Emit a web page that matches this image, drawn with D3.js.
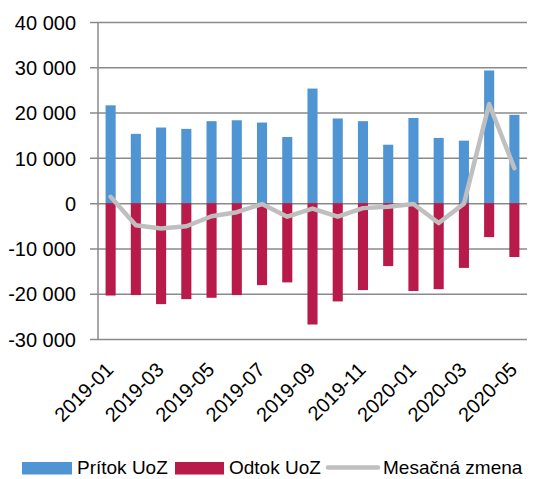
<!DOCTYPE html>
<html>
  <head>
    <meta charset="utf-8">
    <style>
      body { margin: 0; background: #ffffff; }
      text { font-family: "Liberation Sans", Arial, sans-serif; fill: #000; }
    </style>
  </head>
  <body>
    <svg id="chart"></svg>
  </body>
</html>

<script src="https://d3js.org/d3.v7.min.js"></script>

<script>
  const WIDTH = 545;
  const HEIGHT = 479;

  // data
  const months = ['2019-01','2019-02','2019-03','2019-04','2019-05','2019-06','2019-07','2019-08',
                  '2019-09','2019-10','2019-11','2019-12','2020-01','2020-02','2020-03','2020-04','2020-05'];
  const pritok = [21600, 15300, 16700, 16400, 18100, 18300, 17800, 14600,
                  25300, 18700, 18100, 12900, 18800, 14400, 13800, 29300, 19500];
  const odtok = [-20400, -20300, -22300, -21200, -20900, -20300, -18100, -17500,
                 -26800, -21700, -19200, -13900, -19400, -19000, -14300, -7500, -11900];
  const zmena = [1400, -4900, -5600, -5100, -2900, -2000, -200, -3000,
                 -1200, -3000, -1100, -800, -200, -4400, -100, 21900, 7700];
  const yTicks = [-30000, -20000, -10000, 0, 10000, 20000, 30000, 40000];
  const seriesNames = ['Prítok UoZ', 'Odtok UoZ', 'Mesačná zmena'];

  const BLUE = '#5095d3';
  const RED = '#b81a4a';
  const GRAY = '#bfbfbf';
  const GRID = '#8a8a8a';

  let svg = d3.select('#chart')
    .attr('width', WIDTH)
    .attr('height', HEIGHT);

  let x = d3.scaleBand()
    .domain(months)
    .range([98, 527])
    .paddingInner(0.6)
    .paddingOuter(0.3);

  let y = d3.scaleLinear()
    .domain([-30000, 40000])
    .range([339, 22]);

  let fmt = d3.formatLocale({decimal: ',', thousands: ' ', grouping: [3], currency: ['', ''], minus: '-'}).format(',');

  // gridlines + y axis
  let yAxis = d3.axisLeft(y)
    .tickValues(yTicks)
    .tickSize(-(527 - 90))
    .tickFormat(fmt);
  let gy = svg.append('g')
    .attr('transform', 'translate(90,0)')
    .call(yAxis);
  gy.select('.domain').remove();
  gy.selectAll('line').attr('stroke', GRID).attr('stroke-width', 1.5);
  gy.selectAll('text')
    .attr('x', -14)
    .attr('dy', '0.36em')
    .style('font-size', '20px')
    .style('font-family', '"Liberation Sans", Arial, sans-serif');

  // vertical axis line
  svg.append('line')
    .attr('x1', 98).attr('x2', 98)
    .attr('y1', y(40000)).attr('y2', y(-30000))
    .attr('stroke', GRID)
    .attr('stroke-width', 1.5);

  // bars
  svg.selectAll('rect.pritok')
    .data(pritok)
    .enter()
    .append('rect')
    .attr('class', 'pritok')
    .attr('x', (d, i) => x(months[i]))
    .attr('y', d => y(d))
    .attr('width', x.bandwidth())
    .attr('height', d => y(0) - y(d))
    .attr('fill', BLUE);

  svg.selectAll('rect.odtok')
    .data(odtok)
    .enter()
    .append('rect')
    .attr('class', 'odtok')
    .attr('x', (d, i) => x(months[i]))
    .attr('y', y(0))
    .attr('width', x.bandwidth())
    .attr('height', d => y(d) - y(0))
    .attr('fill', RED);

  // monthly change line
  let line = d3.line()
    .x((d, i) => x(months[i]) + x.bandwidth() / 2)
    .y(d => y(d));
  svg.append('path')
    .datum(zmena)
    .attr('d', line)
    .attr('fill', 'none')
    .attr('stroke', GRAY)
    .attr('stroke-width', 4.5)
    .attr('stroke-linejoin', 'round')
    .attr('stroke-linecap', 'round');

  // x labels, every other month, rotated
  svg.selectAll('text.xlab')
    .data(months.filter((m, i) => i % 2 == 0))
    .enter()
    .append('text')
    .attr('class', 'xlab')
    .attr('transform', d => 'translate(' + (x(d) + x.bandwidth() / 2 + 4) + ',' + 371 + ') rotate(-45)')
    .attr('text-anchor', 'end')
    .style('font-size', '20px')
    .text(d => d);

  // legend
  let leg = svg.append('g');
  leg.append('rect').attr('x', 22).attr('y', 462).attr('width', 50).attr('height', 12.5).attr('fill', BLUE);
  leg.append('text').attr('x', 77).attr('y', 474).style('font-size', '19px').text(seriesNames[0]);
  leg.append('rect').attr('x', 175).attr('y', 462).attr('width', 49).attr('height', 12.5).attr('fill', RED);
  leg.append('text').attr('x', 229).attr('y', 474).style('font-size', '19px').text(seriesNames[1]);
  leg.append('line').attr('x1', 328).attr('x2', 378).attr('y1', 467.5).attr('y2', 467.5)
    .attr('stroke', GRAY).attr('stroke-width', 4.5).attr('stroke-linecap', 'round');
  leg.append('text').attr('x', 383).attr('y', 474).style('font-size', '19px').text(seriesNames[2]);
</script>
